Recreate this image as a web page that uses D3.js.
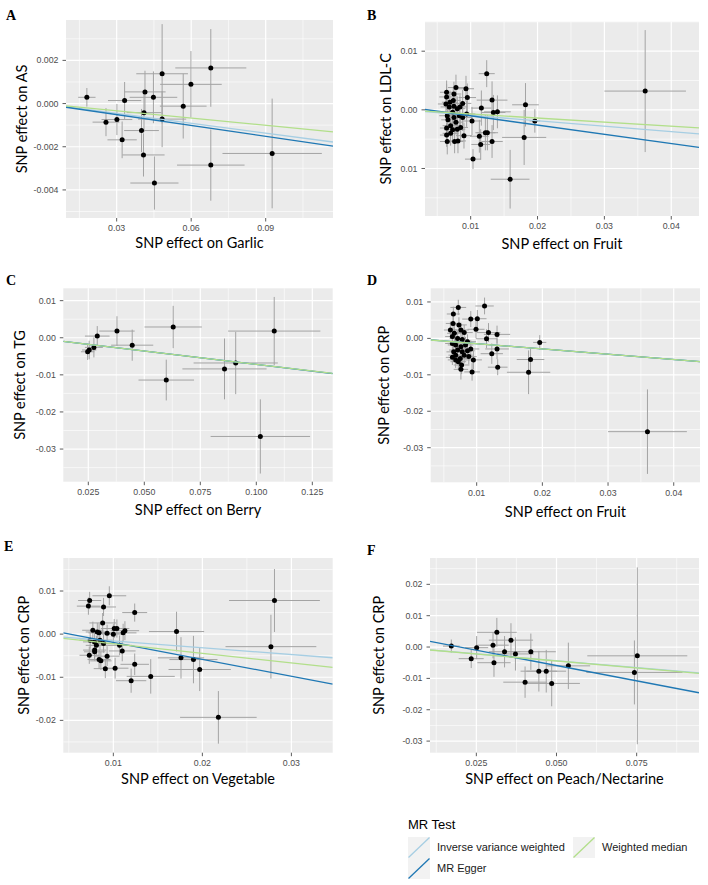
<!DOCTYPE html>
<html><head><meta charset="utf-8">
<script src="https://cdn.jsdelivr.net/npm/d3@7"></script>
<style>body{margin:0;background:#fff}svg{display:block}</style>
</head><body>
<svg id="chart" width="708" height="885"></svg>
<script>
// ---------- data ----------
const methods = ["Inverse variance weighted", "MR Egger", "Weighted median"];

// Panel A: Garlic -> AS
const aX = [0.0180,0.0257,0.0301,0.0332,0.0322,0.0414,0.0410,0.0400,0.0408,0.0448,0.0483,0.0483,0.0452,0.0568,0.0599,0.0679,0.0679,0.0926];
const aY = [0.00029,-0.00086,-0.00074,0.00014,-0.00168,0.00054,-0.00042,-0.00125,-0.00238,0.00029,0.00138,-0.00072,-0.00368,-0.00012,0.00089,0.00165,-0.00285,-0.00231];
const aXerr = [0.0035,0.0054,0.0062,0.0067,0.0059,0.0083,0.0070,0.0070,0.0085,0.0096,0.0104,0.0097,0.0097,0.0094,0.0124,0.0143,0.0136,0.0200];
const aYerr = [0.00043,0.00065,0.00072,0.00086,0.00085,0.00098,0.0009,0.0010,0.0010,0.0012,0.0023,0.0013,0.00123,0.0015,0.00154,0.0018,0.00165,0.00254];
const aSlope = [-0.0152, -0.01677, -0.0112];
const aIntercept = [0, -0.00001, 0];
const aXTicks = [0.03, 0.06, 0.09], aXLabels = ["0.03","0.06","0.09"];
const aYTicks = [-0.004, -0.002, 0, 0.002], aYLabels = ["-0.004","-0.002","0.000","0.002"];

// Panel B: Fruit -> LDL-C
const bX = [0.0124,0.0361,0.0116,0.0132,0.0134,0.0140,0.0182,0.0196,0.0180,0.0159,0.01035,0.0115,0.0113,0.0122,0.0125,0.0132,0.0090,0.0102,0.0095,0.0093,
  0.0078,0.0075,0.0064,0.0064,0.0063,0.0068,0.0075,0.0084,0.0088,0.0080,
  0.0073,0.0065,0.0066,0.0075,0.0083,0.0078,0.0070,0.0064,0.0073,0.0080,
  0.0085,0.0064,0.0070,0.0065,0.0076,0.0081,0.0088,0.0094,0.0074,0.0069];
const bY = [0.00617,0.0032,0.0003,0.00166,-0.00046,-0.00034,0.00086,-0.00189,-0.0047,-0.01183,-0.0084,-0.0059,-0.0045,-0.0039,-0.0039,-0.0054,-0.0044,-0.0019,0.0021,0.0036,
  0.0038,0.0027,0.0030,0.0022,0.0010,0.0005,0.0006,0.0005,0.0011,0.0002,
  -0.0004,-0.0010,-0.0017,-0.0013,-0.0010,-0.0021,-0.0027,-0.0031,-0.0034,-0.0033,
  -0.0030,-0.0043,-0.0040,-0.0054,-0.0054,-0.0053,-0.0013,-0.0007,0.0016,0.0013];
const bXerr = [0.0012,0.0061,0.0015,0.0023,0.0018,0.0020,0.0020,0.0008,0.0033,0.0029,0.0012,0.0014,0.0014,0.0015,0.0016,0.0016,0.0012,0.0014,0.0013,0.0012,
  0.0012,0.0011,0.0010,0.0011,0.0012,0.0013,0.0012,0.0011,0.0013,0.0012,
  0.0011,0.0012,0.0010,0.0013,0.0012,0.0011,0.0012,0.0010,0.0013,0.0012,
  0.0011,0.0010,0.0012,0.0011,0.0013,0.0012,0.0014,0.0013,0.0011,0.0012];
const bYerr = [0.0023,0.0104,0.0030,0.0032,0.0030,0.0028,0.0037,0.0020,0.0047,0.0050,0.0017,0.0026,0.0028,0.0030,0.0030,0.0028,0.0022,0.0024,0.0024,0.0022,
  0.0022,0.0021,0.0020,0.0022,0.0023,0.0021,0.0022,0.0020,0.0023,0.0021,
  0.0022,0.0020,0.0021,0.0023,0.0022,0.0021,0.0020,0.0022,0.0021,0.0023,
  0.0022,0.0020,0.0021,0.0022,0.0020,0.0021,0.0023,0.0022,0.0021,0.0020];
const bSlope = [-0.0931, -0.1576, -0.0700];
const bIntercept = [0, 0.000557, 0];
const bXTicks = [0.01, 0.02, 0.03, 0.04], bXLabels = ["0.01","0.02","0.03","0.04"];
const bYTicks = [-0.01, 0, 0.01], bYLabels = ["0.01","0.00","0.01"];

// Panel C: Berry -> TG
const cX = [0.0247,0.0254,0.0275,0.0290,0.0378,0.0446,0.0629,0.0598,0.0858,0.0908,0.1080,0.1018];
const cY = [-0.00378,-0.0033,-0.0026,0.00045,0.0018,-0.0020,0.0029,-0.0114,-0.0084,-0.0068,0.0018,-0.0266];
const cXerr = [0.0030,0.0032,0.0040,0.0055,0.0079,0.0094,0.0128,0.0124,0.0188,0.0188,0.0206,0.0222];
const cYerr = [0.0022,0.0025,0.0027,0.0027,0.0040,0.0042,0.0057,0.0055,0.0082,0.0084,0.0092,0.0100];
const cSlope = [-0.0717, -0.0725, -0.0717];
const cIntercept = [0, 0.00005, 0];
const cXTicks = [0.025, 0.05, 0.075, 0.1, 0.125], cXLabels = ["0.025","0.050","0.075","0.100","0.125"];
const cYTicks = [-0.03, -0.02, -0.01, 0, 0.01], cYLabels = ["-0.03","-0.02","-0.01","0.00","0.01"];

// Panel D: Fruit -> CRP
const dX = [0.0112,0.0072,0.00645,0.0091,0.0101,0.0099,0.0118,0.0115,0.0131,0.0131,0.0123,0.0132,0.0196,0.0182,0.0179,0.0360,0.0093,0.0095,0.0091,0.0076,0.0077,
  0.0064,0.0073,0.0060,0.0066,0.0076,0.0081,0.0063,0.0071,0.0078,0.0086,0.0063,0.0068,0.0076,0.0083,0.0065,0.0071,0.0078,0.0086,0.0063,0.0068,0.0075,0.0081,0.0088,0.0068,0.0072];
const dY = [0.0089,0.0085,0.0067,0.0053,0.0054,0.0025,0.0016,-0.0001,0.0011,-0.0029,-0.0042,-0.0079,-0.0011,-0.0058,-0.0093,-0.0256,-0.0092,-0.0059,-0.0029,-0.0085,-0.0073,
  0.0041,0.0037,0.0023,0.0014,0.0023,0.0016,0.0005,0.0000,-0.0003,-0.0009,-0.0014,-0.0018,-0.0023,-0.0018,-0.0037,-0.0032,-0.0037,-0.0034,-0.0052,-0.0059,-0.0055,-0.0046,-0.0050,-0.0046,-0.0064];
const dXerr = [0.0014,0.0012,0.0010,0.0013,0.0014,0.0013,0.0018,0.0016,0.0020,0.0018,0.0017,0.0015,0.0010,0.0021,0.0033,0.0060,0.0012,0.0013,0.0013,0.0011,0.0012,
  0.0011,0.0012,0.0010,0.0011,0.0012,0.0013,0.0011,0.0012,0.0010,0.0013,0.0011,0.0012,0.0010,0.0012,0.0011,0.0013,0.0012,0.0011,0.0010,0.0012,0.0011,0.0013,0.0012,0.0011,0.0012];
const dYerr = [0.0023,0.0021,0.0020,0.0022,0.0024,0.0025,0.0026,0.0026,0.0024,0.0028,0.0028,0.0022,0.0020,0.0030,0.0060,0.0116,0.0024,0.0026,0.0024,0.0028,0.0025,
  0.0022,0.0021,0.0023,0.0022,0.0020,0.0021,0.0023,0.0022,0.0021,0.0020,0.0022,0.0023,0.0021,0.0022,0.0020,0.0021,0.0023,0.0022,0.0021,0.0022,0.0020,0.0023,0.0021,0.0022,0.0020];
const dSlope = [-0.145, -0.146, -0.145];
const dIntercept = [0, 0.00002, 0];
const dXTicks = [0.01, 0.02, 0.03, 0.04], dXLabels = ["0.01","0.02","0.03","0.04"];
const dYTicks = [-0.03, -0.02, -0.01, 0, 0.01], dYLabels = ["-0.03","-0.02","-0.01","0.00","0.01"];

// Panel E: Vegetable -> CRP
const eX = [0.00734,0.0072,0.00955,0.0089,0.0124,0.0088,0.0077,0.0082,0.0084,0.0093,
  0.0101,0.0104,0.0100,0.0113,0.0111,0.0107,0.0110,0.0074,0.0079,0.0085,
  0.0089,0.0081,0.0079,0.0079,0.0073,0.0084,0.0086,0.0093,0.0091,0.0102,
  0.0124,0.0120,0.0142,0.0171,0.0176,0.0190,0.0197,0.0218,0.0281,0.0277];
const eY = [0.0078,0.0065,0.0089,0.0063,0.0050,0.0026,0.0009,0.0005,0.0003,0.0002,
  0.0013,0.0013,0.0000,0.0008,0.0003,-0.0026,-0.0039,-0.0014,-0.0018,-0.0014,
  -0.0022,-0.0026,-0.0037,-0.0041,-0.0049,-0.0059,-0.0062,-0.0051,-0.0080,-0.0079,
  -0.0070,-0.0108,-0.0098,0.0006,-0.0055,-0.0059,-0.0082,-0.0193,0.0078,-0.0029];
const eXerr = [0.0013,0.0013,0.0019,0.0014,0.0014,0.0015,0.0012,0.0013,0.0012,0.0014,
  0.0015,0.0014,0.0013,0.0016,0.0015,0.0014,0.0015,0.0012,0.0013,0.0014,
  0.0013,0.0012,0.0013,0.0012,0.0011,0.0013,0.0012,0.0014,0.0013,0.0015,
  0.0016,0.0017,0.0027,0.0031,0.0026,0.0027,0.0035,0.0043,0.0051,0.0051];
const eYerr = [0.0020,0.0020,0.0022,0.0021,0.0021,0.0023,0.0020,0.0021,0.0022,0.0020,
  0.0022,0.0021,0.0023,0.0022,0.0021,0.0023,0.0024,0.0020,0.0021,0.0022,
  0.0021,0.0022,0.0020,0.0021,0.0020,0.0022,0.0021,0.0023,0.0022,0.0024,
  0.0025,0.0028,0.0040,0.0046,0.0048,0.0055,0.0050,0.0061,0.0073,0.0074];
const eSlope = [-0.158, -0.3936, -0.223];
const eIntercept = [0, 0.00203, 0];
const eXTicks = [0.01, 0.02, 0.03], eXLabels = ["0.01","0.02","0.03"];
const eYTicks = [-0.02, -0.01, 0, 0.01], eYLabels = ["-0.02","-0.01","0.00","0.01"];

// Panel F: Peach/Nectarine -> CRP
const fX = [0.0172,0.0234,0.0251,0.0302,0.0314,0.0305,0.0338,0.0358,0.0372,0.0420,0.0402,0.0445,0.0468,0.0485,0.0537,0.0743,0.0752];
const fY = [0.0003,-0.0037,-0.0002,0.0006,0.0047,-0.0050,-0.0015,0.0022,-0.0022,-0.0015,-0.0112,-0.0077,-0.0077,-0.0116,-0.0060,-0.0081,-0.0028];
const fXerr = [0.0026,0.0039,0.0036,0.0049,0.0062,0.0052,0.0049,0.0069,0.0057,0.0078,0.0068,0.0057,0.0062,0.0088,0.0068,0.0150,0.0156];
const fYerr = [0.0021,0.0030,0.0037,0.0042,0.0046,0.0045,0.0050,0.0054,0.0053,0.0058,0.0050,0.0065,0.0068,0.0073,0.0074,0.0102,0.0282];
const fSlope = [-0.087, -0.1952, -0.0889];
const fIntercept = [0, 0.00386, 0];
const fXTicks = [0.025, 0.05, 0.075], fXLabels = ["0.025","0.050","0.075"];
const fYTicks = [-0.03, -0.02, -0.01, 0, 0.01, 0.02], fYLabels = ["-0.03","-0.02","-0.01","0.00","0.01","0.02"];

// ---------- style & layout ----------
const lineColors = ["#A6CEE3", "#1F78B4", "#B2DF8A"];
const TICK_FONT = "'Liberation Sans', Arial, sans-serif";
const TITLE_FONT = "Lato, 'Open Sans', sans-serif";

const panels = [
  {id:"A", x:aX, y:aY, xe:aXerr, ye:aYerr, slope:aSlope, icpt:aIntercept, xt:aXTicks, xl:aXLabels, yt:aYTicks, yl:aYLabels,
   xdom:[0.0096,0.1171], ydom:[-0.0053,0.00387], rect:[66,20,333,218], xTitle:"SNP effect on Garlic", yTitle:"SNP effect on AS",
   yTitleX:26.5, xTitleY:248, lab:[6,19.5]},
  {id:"B", x:bX, y:bY, xe:bXerr, ye:bYerr, slope:bSlope, icpt:bIntercept, xt:bXTicks, xl:bXLabels, yt:bYTicks, yl:bYLabels,
   xdom:[0.00317,0.04415], ydom:[-0.0181,0.01503], rect:[425,21.7,699,216], xTitle:"SNP effect on Fruit", yTitle:"SNP effect on LDL-C",
   yTitleX:391, xTitleY:249, lab:[367,19.5]},
  {id:"C", x:cX, y:cY, xe:cXerr, ye:cYerr, slope:cSlope, icpt:cIntercept, xt:cXTicks, xl:cXLabels, yt:cYTicks, yl:cYLabels,
   xdom:[0.01384,0.1341], ydom:[-0.0388,0.01333], rect:[63.3,288.3,332.7,481.7], xTitle:"SNP effect on Berry", yTitle:"SNP effect on TG",
   yTitleX:25, xTitleY:515, lab:[6,285]},
  {id:"D", x:dX, y:dY, xe:dXerr, ye:dYerr, slope:dSlope, icpt:dIntercept, xt:dXTicks, xl:dXLabels, yt:dYTicks, yl:dYLabels,
   xdom:[0.0030,0.0440], ydom:[-0.0395,0.01375], rect:[430.7,288.3,700,482.3], xTitle:"SNP effect on Fruit", yTitle:"SNP effect on CRP",
   yTitleX:389, xTitleY:516.5, lab:[367,285]},
  {id:"E", x:eX, y:eY, xe:eXerr, ye:eYerr, slope:eSlope, icpt:eIntercept, xt:eXTicks, xl:eXLabels, yt:eYTicks, yl:eYLabels,
   xdom:[0.00438,0.03464], ydom:[-0.0275,0.01766], rect:[63.3,558,332.7,752.7], xTitle:"SNP effect on Vegetable", yTitle:"SNP effect on CRP",
   yTitleX:29, xTitleY:784, lab:[4,551]},
  {id:"F", x:fX, y:fY, xe:fXerr, ye:fYerr, slope:fSlope, icpt:fIntercept, xt:fXTicks, xl:fXLabels, yt:fYTicks, yl:fYLabels,
   xdom:[0.01055,0.09444], ydom:[-0.0337,0.0284], rect:[430,558,699,752.7], xTitle:"SNP effect on Peach/Nectarine", yTitle:"SNP effect on CRP",
   yTitleX:384, xTitleY:784, lab:[367,555]}
];

const svg = d3.select("#chart");
svg.append("rect").attr("width",708).attr("height",885).attr("fill","#fff");

// fit axis-title font size to the reference width
const probe = svg.append("text").attr("font-family", TITLE_FONT).attr("font-size", 16).text("SNP effect on Vegetable");
const probeW = probe.node().getComputedTextLength();
probe.remove();
const titleSize = 16 * 154 / probeW;

function minorBreaks(majors, dom) {
  const step = majors[1] - majors[0];
  const out = [];
  for (let v = majors[0] - step / 2; v <= majors[majors.length - 1] + step / 2 + 1e-12; v += step) {
    if (v >= dom[0] && v <= dom[1]) out.push(v);
  }
  return out;
}

panels.forEach((p, pi) => {
  const [x0, y0, x1, y1] = p.rect;
  const xs = d3.scaleLinear().domain(p.xdom).range([x0, x1]);
  const ys = d3.scaleLinear().domain(p.ydom).range([y1, y0]);
  const g = svg.append("g");

  g.append("rect").attr("x", x0).attr("y", y0).attr("width", x1 - x0).attr("height", y1 - y0).attr("fill", "#EBEBEB");

  // minor grid
  g.selectAll(null).data(minorBreaks(p.xt, p.xdom)).join("line")
    .attr("x1", d => xs(d)).attr("x2", d => xs(d)).attr("y1", y0).attr("y2", y1)
    .attr("stroke", "#fff").attr("stroke-width", 0.6);
  g.selectAll(null).data(minorBreaks(p.yt, p.ydom)).join("line")
    .attr("y1", d => ys(d)).attr("y2", d => ys(d)).attr("x1", x0).attr("x2", x1)
    .attr("stroke", "#fff").attr("stroke-width", 0.6);
  // major grid
  g.selectAll(null).data(p.xt).join("line")
    .attr("x1", d => xs(d)).attr("x2", d => xs(d)).attr("y1", y0).attr("y2", y1)
    .attr("stroke", "#fff").attr("stroke-width", 1.2);
  g.selectAll(null).data(p.yt).join("line")
    .attr("y1", d => ys(d)).attr("y2", d => ys(d)).attr("x1", x0).attr("x2", x1)
    .attr("stroke", "#fff").attr("stroke-width", 1.2);

  const clipId = "clip" + pi;
  svg.append("clipPath").attr("id", clipId).append("rect")
    .attr("x", x0).attr("y", y0).attr("width", x1 - x0).attr("height", y1 - y0);
  const pg = g.append("g").attr("clip-path", `url(#${clipId})`);

  const idx = d3.range(p.x.length);
  // vertical error bars
  pg.selectAll(null).data(idx).join("line")
    .attr("x1", i => xs(p.x[i])).attr("x2", i => xs(p.x[i]))
    .attr("y1", i => ys(p.y[i] - p.ye[i])).attr("y2", i => ys(p.y[i] + p.ye[i]))
    .attr("stroke", "#A3A3A3").attr("stroke-width", 1);
  // horizontal error bars
  pg.selectAll(null).data(idx).join("line")
    .attr("y1", i => ys(p.y[i])).attr("y2", i => ys(p.y[i]))
    .attr("x1", i => xs(p.x[i] - p.xe[i])).attr("x2", i => xs(p.x[i] + p.xe[i]))
    .attr("stroke", "#A3A3A3").attr("stroke-width", 1);
  // points
  pg.selectAll(null).data(idx).join("circle")
    .attr("cx", i => xs(p.x[i])).attr("cy", i => ys(p.y[i])).attr("r", 2.5).attr("fill", "#000");
  // regression lines
  pg.selectAll(null).data(d3.range(methods.length)).join("line")
    .attr("x1", x0).attr("x2", x1)
    .attr("y1", k => ys(p.icpt[k] + p.slope[k] * xs.invert(x0)))
    .attr("y2", k => ys(p.icpt[k] + p.slope[k] * xs.invert(x1)))
    .attr("stroke", k => lineColors[k]).attr("stroke-width", 1.3);

  // ticks
  g.selectAll(null).data(p.xt).join("line")
    .attr("x1", d => xs(d)).attr("x2", d => xs(d)).attr("y1", y1).attr("y2", y1 + 3.5)
    .attr("stroke", "#333").attr("stroke-width", 0.8);
  g.selectAll(null).data(p.yt).join("line")
    .attr("y1", d => ys(d)).attr("y2", d => ys(d)).attr("x1", x0 - 3.5).attr("x2", x0)
    .attr("stroke", "#333").attr("stroke-width", 0.8);
  g.selectAll(null).data(p.xt).join("text")
    .attr("x", d => xs(d)).attr("y", y1 + 13.2).attr("text-anchor", "middle")
    .attr("font-family", TICK_FONT).attr("font-size", 8.8).attr("fill", "#4D4D4D")
    .text((d, i) => p.xl[i]);
  g.selectAll(null).data(p.yt).join("text")
    .attr("x", x0 - 7.5).attr("y", d => ys(d)).attr("dy", "0.35em").attr("text-anchor", "end")
    .attr("font-family", TICK_FONT).attr("font-size", 8.8).attr("fill", "#4D4D4D")
    .text((d, i) => p.yl[i]);

  // axis titles
  g.append("text").attr("x", (x0 + x1) / 2).attr("y", p.xTitleY).attr("text-anchor", "middle")
    .attr("font-family", TITLE_FONT).attr("font-size", titleSize).attr("fill", "#000").text(p.xTitle);
  g.append("text").attr("transform", `translate(${p.yTitleX},${(y0 + y1) / 2}) rotate(-90)`)
    .attr("text-anchor", "middle")
    .attr("font-family", TITLE_FONT).attr("font-size", titleSize).attr("fill", "#000").text(p.yTitle);

  // panel letter
  g.append("text").attr("x", p.lab[0]).attr("y", p.lab[1])
    .attr("font-family", "'Liberation Serif', 'Times New Roman', serif").attr("font-weight", "bold")
    .attr("font-size", 14).attr("fill", "#000").text(p.id);
});

// ---------- legend ----------
const lg = svg.append("g");
lg.append("text").attr("x", 408).attr("y", 829).attr("font-family", TICK_FONT).attr("font-size", 13).text("MR Test");
const legendPos = [[408, 837], [408, 858], [573, 837]];
methods.forEach((m, k) => {
  const [lx, ly] = legendPos[k];
  lg.append("rect").attr("x", lx).attr("y", ly).attr("width", 22).attr("height", 21).attr("fill", "#F2F2F2");
  lg.append("line").attr("x1", lx + 0.5).attr("y1", ly + 20.5).attr("x2", lx + 21.5).attr("y2", ly + 0.5)
    .attr("stroke", lineColors[k]).attr("stroke-width", 1.3);
  lg.append("text").attr("x", lx + 29).attr("y", ly + 10.5).attr("dy", "0.35em")
    .attr("font-family", TICK_FONT).attr("font-size", 11).attr("fill", "#1a1a1a").text(m);
});
</script>
</body></html>
